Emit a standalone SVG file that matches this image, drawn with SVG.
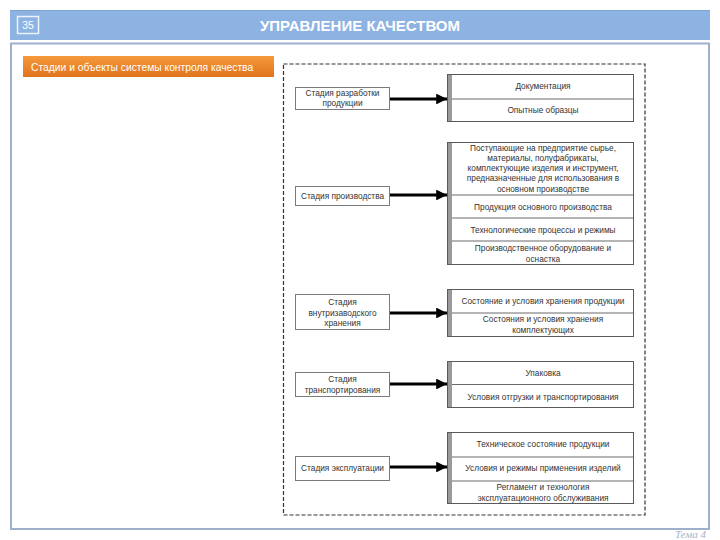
<svg xmlns="http://www.w3.org/2000/svg" width="720" height="540" viewBox="0 0 720 540">
<defs>
<linearGradient id="og" x1="0" y1="0" x2="0" y2="1">
<stop offset="0" stop-color="#f59a3c"/>
<stop offset="1" stop-color="#e0731b"/>
</linearGradient>
<marker id="ah" viewBox="0 0 10 10" refX="10" refY="5" markerWidth="5" markerHeight="3.6" markerUnits="strokeWidth" orient="auto">
<path d="M0,0 L10,5 L0,10 z" fill="#000"/>
</marker>
<style>
.t{font-family:"Liberation Sans",Arial,sans-serif;font-size:8.3px;fill:#333;text-anchor:middle}
.stage{fill:#fff;stroke:#7a7a7a;stroke-width:1}
.grp{fill:#fff;stroke:#5a5a5a;stroke-width:1}
.bar{fill:#9a9a9a}
.div{stroke:#6a6a6a;stroke-width:1}
.arr{stroke:#000;stroke-width:3;fill:none;marker-end:url(#ah)}
</style>
</defs>
<rect x="0" y="0" width="720" height="540" fill="#fff"/>
<!-- header -->
<rect x="10" y="10" width="700" height="30" fill="#8db3e2"/>
<line x1="10" y1="10.5" x2="710" y2="10.5" stroke="#7fa3d2" stroke-width="1"/>
<rect x="17.5" y="16.5" width="21" height="17" fill="none" stroke="#eef3fb" stroke-width="1.5"/>
<text x="28" y="29" font-family="Liberation Sans, Arial, sans-serif" font-size="10.5" fill="#fff" text-anchor="middle">35</text>
<text x="360" y="31" font-family="Liberation Sans, Arial, sans-serif" font-size="15" font-weight="bold" fill="#fff" text-anchor="middle">УПРАВЛЕНИЕ КАЧЕСТВОМ</text>
<!-- content frame -->
<rect x="11" y="43.5" width="698" height="485.5" fill="#fff" stroke="#9eb0cc" stroke-width="2"/>
<!-- orange label -->
<rect x="23" y="56" width="251" height="21" fill="url(#og)"/>
<text x="31" y="70.5" font-family="Liberation Sans, Arial, sans-serif" font-size="10.3" fill="#fff">Стадии и объекты системы контроля качества</text>
<!-- dashed frame -->
<rect x="283.5" y="64" width="361.5" height="451" fill="none" stroke="#333" stroke-width="1.2" stroke-dasharray="4 2"/>
<!-- stages -->
<g id="stage1"><rect class="stage" x="295.5" y="87.5" width="94" height="22"/><text class="t" x="342.5" y="95.5">Стадия разработки</text><text class="t" x="342.5" y="106">продукции</text></g>
<g id="stage2"><rect class="stage" x="295.5" y="186.5" width="94" height="19"/><text class="t" x="342.5" y="199">Стадия производства</text></g>
<g id="stage3"><rect class="stage" x="295.5" y="294.5" width="94" height="35"/><text class="t" x="342.5" y="305">Стадия</text><text class="t" x="342.5" y="315.5">внутризаводского</text><text class="t" x="342.5" y="326">хранения</text></g>
<g id="stage4"><rect class="stage" x="295.5" y="372.5" width="94" height="24"/><text class="t" x="342.5" y="382">Стадия</text><text class="t" x="342.5" y="392.5">транспортирования</text></g>
<g id="stage5"><rect class="stage" x="295.5" y="456.5" width="94" height="24"/><text class="t" x="342.5" y="470.5">Стадия эксплуатации</text></g>
<!-- groups -->
<g id="group1"><rect class="grp" x="447.5" y="74.5" width="186" height="47"/><rect class="bar" x="448" y="75" width="4" height="46"/><line class="div" x1="452" y1="99" x2="633.5" y2="99"/>
<text class="t" x="543" y="89">Документация</text><text class="t" x="543" y="113">Опытные образцы</text></g>
<g id="group2"><rect class="grp" x="447.5" y="142.5" width="186" height="122"/><rect class="bar" x="448" y="143" width="4" height="121"/>
<line class="div" x1="452" y1="195" x2="633.5" y2="195"/><line class="div" x1="452" y1="218" x2="633.5" y2="218"/><line class="div" x1="452" y1="241" x2="633.5" y2="241"/>
<text class="t" x="543" y="150.5">Поступающие на предприятие сырье,</text>
<text class="t" x="543" y="160.8">материалы, полуфабрикаты,</text>
<text class="t" x="543" y="171.1">комплектующие изделия и инструмент,</text>
<text class="t" x="543" y="181.4">предназначенные для использования в</text>
<text class="t" x="543" y="191.7">основном производстве</text>
<text class="t" x="543" y="210">Продукция основного производства</text>
<text class="t" x="543" y="233">Технологические процессы и режимы</text>
<text class="t" x="543" y="250.5">Производственное оборудование и</text>
<text class="t" x="543" y="261.5">оснастка</text></g>
<g id="group3"><rect class="grp" x="447.5" y="289.5" width="186" height="47"/><rect class="bar" x="448" y="290" width="4" height="46"/><line class="div" x1="452" y1="313" x2="633.5" y2="313"/>
<text class="t" x="543" y="304">Состояние и условия хранения продукции</text>
<text class="t" x="543" y="322">Состояния и условия хранения</text>
<text class="t" x="543" y="332.5">комплектующих</text></g>
<g id="group4"><rect class="grp" x="447.5" y="361.5" width="186" height="46"/><rect class="bar" x="448" y="362" width="4" height="45"/><line class="div" x1="452" y1="384.5" x2="633.5" y2="384.5"/>
<text class="t" x="543" y="376">Упаковка</text><text class="t" x="543" y="400">Условия отгрузки и транспортирования</text></g>
<g id="group5"><rect class="grp" x="447.5" y="432.5" width="186" height="71"/><rect class="bar" x="448" y="433" width="4" height="70"/><line class="div" x1="452" y1="457" x2="633.5" y2="457"/><line class="div" x1="452" y1="481" x2="633.5" y2="481"/>
<text class="t" x="543" y="447">Техническое состояние продукции</text>
<text class="t" x="543" y="470.5">Условия и режимы применения изделий</text>
<text class="t" x="543" y="490">Регламент и технология</text>
<text class="t" x="543" y="500.5">эксплуатационного обслуживания</text></g>
<!-- connectors -->
<g id="connectors">
<line class="arr" x1="390" y1="99" x2="447" y2="99"/>
<line class="arr" x1="390" y1="195" x2="447" y2="195"/>
<line class="arr" x1="390" y1="313" x2="447" y2="313"/>
<line class="arr" x1="390" y1="384" x2="447" y2="384"/>
<line class="arr" x1="390" y1="467" x2="447" y2="467"/>
</g>
<text x="706" y="538" font-family="Liberation Serif, Times New Roman, serif" font-style="italic" font-size="11" fill="#a9b3c8" text-anchor="end">Тема 4</text>
</svg>
